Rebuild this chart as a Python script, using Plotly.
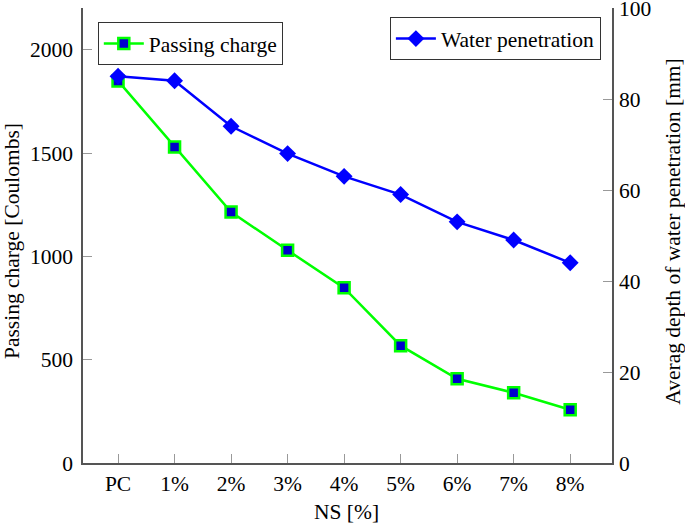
import plotly.graph_objects as go

categories = ["PC", "1%", "2%", "3%", "4%", "5%", "6%", "7%", "8%"]
passing_charge = [1850, 1530, 1215, 1030, 848, 568, 408, 340, 258]
water_penetration = [85, 84, 74, 68, 63, 59, 53, 49, 44]

xs = list(range(len(categories)))
FONT = "Liberation Serif"
AX = "#555555"
FS = 21.5

fig = go.Figure()
fig.add_trace(go.Scatter(
    x=xs, y=passing_charge, name="Passing charge", mode="lines+markers",
    line=dict(color="#00ff00", width=2.5),
    marker=dict(symbol="square", size=11, color="#0000cc",
                line=dict(color="#00ff00", width=2.5)),
    legend="legend", yaxis="y", showlegend=True))
fig.add_trace(go.Scatter(
    x=xs, y=water_penetration, name="Water penetration", mode="lines+markers",
    line=dict(color="#0000ff", width=2.5),
    marker=dict(symbol="diamond", size=13, color="#0000ff"),
    legend="legend2", yaxis="y2", showlegend=True))

fig.update_layout(
    width=685, height=524, showlegend=True,
    margin=dict(l=83, r=73, t=8, b=61),
    plot_bgcolor="white", paper_bgcolor="white",
    font=dict(family=FONT, size=FS, color="black"),
    xaxis=dict(
        range=[-0.62, 8.74], tickmode="array", tickvals=xs, ticktext=categories,
        showgrid=False, zeroline=False, showline=True, linecolor=AX, linewidth=1.5,
        ticks="inside", ticklen=9, tickcolor="#999999", automargin=False,
        tickfont=dict(size=FS)),
    yaxis=dict(
        range=[0, 2203], tickvals=[0, 500, 1000, 1500, 2000],
        showgrid=False, zeroline=False, showline=True, linecolor=AX, linewidth=1.5,
        ticks="inside", ticklen=9, tickcolor="#999999", automargin=False,
        ticklabelstandoff=4),
    yaxis2=dict(
        range=[0, 100.001], tickvals=[0, 20, 40, 60, 80, 100], overlaying="y", side="right",
        showgrid=False, zeroline=False, showline=True, linecolor=AX, linewidth=1.5,
        ticks="inside", ticklen=9, tickcolor="#999999", automargin=False,
        ticklabelstandoff=1, ticklabeloverflow="allow"),
    legend=dict(x=0.028, y=0.969, xanchor="left", yanchor="top",
                bordercolor="#333333", borderwidth=1, bgcolor="white",
                font=dict(size=FS), itemwidth=40, tracegroupgap=0),
    legend2=dict(x=0.979, y=0.980, xanchor="right", yanchor="top",
                 bordercolor="#333333", borderwidth=1, bgcolor="white",
                 font=dict(size=FS), itemwidth=40, tracegroupgap=0),
    annotations=[
        dict(text="NS [%]", xref="paper", yref="paper", x=0.499, y=-0.108,
             xanchor="center", yanchor="middle", showarrow=False, font=dict(size=FS)),
        dict(text="Passing charge [Coulombs]", xref="paper", yref="paper",
             x=-0.134, y=0.488, xanchor="center", yanchor="middle", textangle=-90,
             showarrow=False, font=dict(size=FS)),
        dict(text="Averag depth of water penetration [mm]", xref="paper", yref="paper",
             x=1.115, y=0.508, xanchor="center", yanchor="middle", textangle=-90,
             showarrow=False, font=dict(size=FS)),
    ],
)

fig.write_html("out.html", config={"displayModeBar": False},
               post_script="document.body.style.margin='0';")
